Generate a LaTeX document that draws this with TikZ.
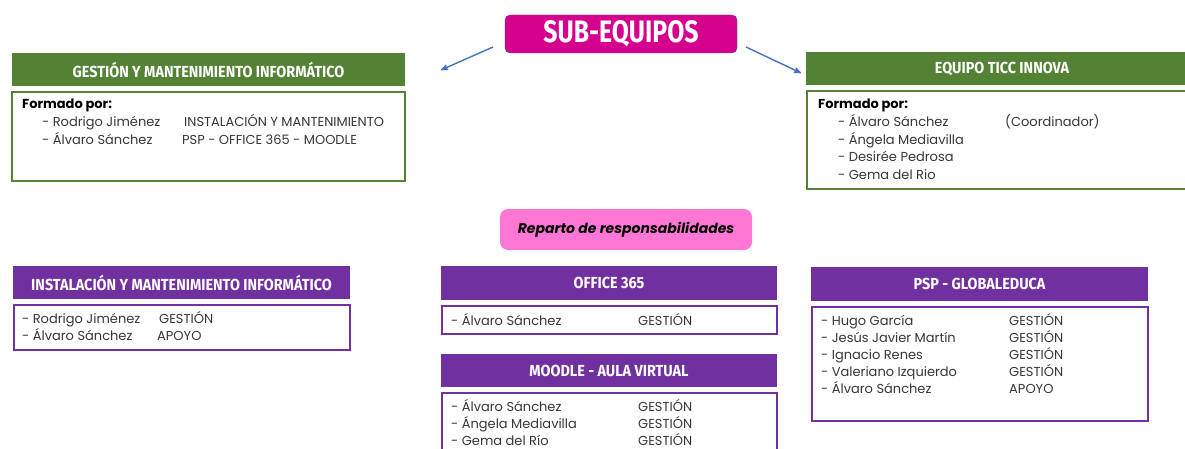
\documentclass[tikz,border=0pt]{standalone}
\usepackage{fontspec}
\setmainfont{Poppins}
\newfontfamily\headfont[FakeStretch=0.9]{Fira Sans}
\newfontfamily\titlefont[FakeStretch=0.8]{Fira Sans}
\usetikzlibrary{arrows}
\definecolor{sub_pink}{RGB}{214,0,143}
\definecolor{sub_edge}{RGB}{47,85,151}
\definecolor{rep_pink}{RGB}{255,119,212}
\definecolor{head_green}{RGB}{84,130,53}
\definecolor{head_purple}{RGB}{112,48,160}
\definecolor{arrow_blue}{RGB}{68,114,196}
\definecolor{text_gray}{RGB}{55,55,55}

\begin{document}
\begin{tikzpicture}[x=1pt,y=-1pt,>=stealth',font=\fontsize{13}{15}\selectfont]
    \tikzstyle{head}=[draw=none, anchor=north west, inner sep=0, outer sep=0, text=white, font=\headfont\bfseries\fontsize{16}{16}\selectfont]
    \tikzstyle{ghead}=[style=head, fill=head_green]
    \tikzstyle{phead}=[style=head, fill=head_purple]
    \tikzstyle{gbody}=[draw=head_green, line width=2.5pt, fill=white, anchor=north west, inner sep=0, outer sep=0]
    \tikzstyle{pbody}=[draw=head_purple, line width=2.5pt, fill=white, anchor=north west, inner sep=0, outer sep=0]
    \tikzstyle{txt}=[anchor=base west, inner sep=0, text=text_gray]
    \tikzstyle{link}=[->, draw=arrow_blue, line width=1.4pt]

    \clip (0,0) rectangle (1185,449);
    \fill[white] (0,0) rectangle (1185,449);

    % titulos
    \node[draw=sub_edge, fill=sub_pink, rounded corners=5pt, anchor=north west, outer sep=0, minimum width=232pt, minimum height=38pt, text=white, font=\titlefont\bfseries\fontsize{31}{31}\selectfont] (sub) at (505,15) {SUB-EQUIPOS};
    \node[fill=rep_pink, rounded corners=8pt, anchor=north west, outer sep=0, minimum width=252pt, minimum height=41pt, font=\bfseries\itshape\fontsize{14}{14}\selectfont] (rep) at (500,209) {Reparto de responsabilidades};

    \coordinate (l_from) at (493,47);
    \coordinate (l_to)   at (441,70);
    \coordinate (r_from) at (746,47);
    \coordinate (r_to)   at (801,73);
    \path
     (l_from) edge[link] (l_to)
     (r_from) edge[link] (r_to)
     ;

    % gestion y mantenimiento
    \node[ghead, minimum width=393pt, minimum height=33pt] (gm_head) at (12,53) {GESTIÓN Y MANTENIMIENTO INFORMÁTICO};
    \node[gbody, minimum width=393pt, minimum height=89pt] (gm_body) at (12,92) {};
    \node[txt, text=black] (gm_f) at (22,109) {\bfseries Formado por:};
    \node[txt] (gm_a) at (42,127) {- Rodrigo Jiménez};
    \node[txt] (gm_b) at (42,145) {- Álvaro Sánchez};
    \node[txt] (gm_c) at (184,127) {INSTALACIÓN Y MANTENIMIENTO};
    \node[txt] (gm_d) at (182,145) {PSP - OFFICE 365 - MOODLE};

    % equipo ticc
    \node[ghead, minimum width=392pt, minimum height=33pt] (tc_head) at (806,52) {EQUIPO TICC INNOVA};
    \node[gbody, minimum width=392pt, minimum height=98pt] (tc_body) at (807,91) {};
    \node[txt, text=black] (tc_f) at (818,109) {\bfseries Formado por:};
    \node[txt] (tc_a) at (838,127) {- Álvaro Sánchez};
    \node[txt] (tc_b) at (838,145) {- Ángela Mediavilla};
    \node[txt] (tc_c) at (838,162) {- Desirée Pedrosa};
    \node[txt] (tc_d) at (838,180) {- Gema del Rio};
    \node[txt] (tc_e) at (1005,127) {(Coordinador)};

    % instalacion
    \node[phead, minimum width=337pt, minimum height=33pt] (in_head) at (13,266) {INSTALACIÓN Y MANTENIMIENTO INFORMÁTICO};
    \node[pbody, minimum width=336pt, minimum height=45pt] (in_body) at (14,305) {};
    \node[txt] (in_a) at (22,323) {- Rodrigo Jiménez};
    \node[txt] (in_b) at (22,340) {- Álvaro Sánchez};
    \node[txt] (in_c) at (159,323) {GESTIÓN};
    \node[txt] (in_d) at (157,340) {APOYO};

    % office 365
    \node[phead, minimum width=336pt, minimum height=34pt] (of_head) at (441,266) {OFFICE 365};
    \node[pbody, minimum width=335pt, minimum height=28pt] (of_body) at (442,306) {};
    \node[txt] (of_a) at (451,325) {- Álvaro Sánchez};
    \node[txt] (of_b) at (638,325) {GESTIÓN};

    % moodle
    \node[phead, minimum width=336pt, minimum height=33pt] (mo_head) at (441,354) {MOODLE - AULA VIRTUAL};
    \node[pbody, minimum width=335pt, minimum height=70pt] (mo_body) at (442,393) {};
    \node[txt] (mo_a) at (451,411) {- Álvaro Sánchez};
    \node[txt] (mo_b) at (451,428) {- Ángela Mediavilla};
    \node[txt] (mo_c) at (451,445) {- Gema del Río};
    \node[txt] (mo_d) at (638,411) {GESTIÓN};
    \node[txt] (mo_e) at (638,428) {GESTIÓN};
    \node[txt] (mo_f) at (638,445) {GESTIÓN};

    % psp
    \node[phead, minimum width=337pt, minimum height=34pt] (ps_head) at (811,267) {PSP - GLOBALEDUCA};
    \node[pbody, minimum width=336pt, minimum height=114pt] (ps_body) at (812,307) {};
    \node[txt] (ps_a) at (821,325) {- Hugo García};
    \node[txt] (ps_b) at (821,342) {- Jesús Javier Martín};
    \node[txt] (ps_c) at (821,359) {- Ignacio Renes};
    \node[txt] (ps_d) at (821,376) {- Valeriano Izquierdo};
    \node[txt] (ps_e) at (821,393) {- Álvaro Sánchez};
    \node[txt] (ps_f) at (1009,325) {GESTIÓN};
    \node[txt] (ps_g) at (1009,342) {GESTIÓN};
    \node[txt] (ps_h) at (1009,359) {GESTIÓN};
    \node[txt] (ps_i) at (1009,376) {GESTIÓN};
    \node[txt] (ps_j) at (1009,393) {APOYO};
\end{tikzpicture}
\end{document}
